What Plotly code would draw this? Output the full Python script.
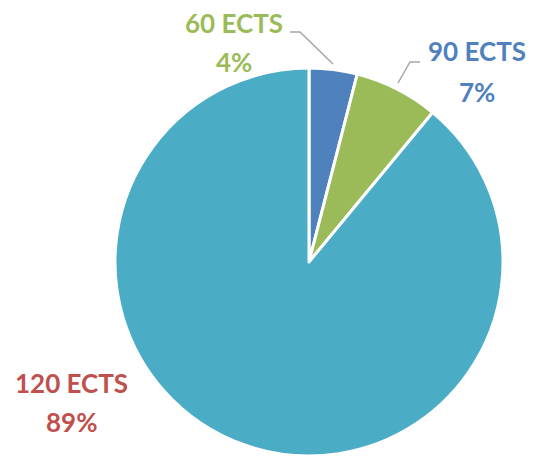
import plotly.graph_objects as go

categories = ["60 ECTS", "90 ECTS", "120 ECTS"]
values = [4, 7, 89]
slice_colors = ["#4F81BD", "#9BBB59", "#4BACC6"]
label_colors = ["#9BBB59", "#4F81BD", "#C0504D"]

# page has an 8px body margin; work in page pixels and shift
OFF = 8
W, H = 535 - OFF, 456 - OFF
cx, cy, r = 309 - OFF, 263 - OFF, 195


def px(x, y):
    return (x - OFF) / W, 1 - (y - OFF) / H


fig = go.Figure(go.Pie(
    labels=categories, values=values, sort=False, direction="clockwise",
    rotation=0, textinfo="none", hoverinfo="label+percent",
    marker=dict(colors=slice_colors, line=dict(color="white", width=3)),
    domain=dict(x=[(cx - r) / W, (cx + r) / W], y=[0, min(1, (H - cy + r) / H)]),
    showlegend=False,
))

total = sum(values)
label_pos = [(234, 23, 62), (477, 51, 92), (71, 383, 422)]
font = "Lato, 'Open Sans', sans-serif"
for cat, v, col, (x, y1, y2) in zip(categories, values, label_colors, label_pos):
    pct = f"{round(100 * v / total)}%"
    for txt, y in ((cat, y1), (pct, y2)):
        ax, ay = px(x, y)
        fig.add_annotation(x=ax, y=ay, xref="paper", yref="paper",
                           text=f"<b>{txt}</b>", showarrow=False,
                           font=dict(family=font, size=26, color=col),
                           xanchor="center", yanchor="middle")

leaders = [[(290, 32), (300, 32), (333, 64)], [(420, 62), (410, 62), (398, 83)]]
for pts in leaders:
    path = "M " + " L ".join("{},{}".format(*px(x, y)) for x, y in pts)
    fig.add_shape(type="path", path=path, xref="paper", yref="paper",
                  line=dict(color="#A6A6A6", width=1.5))

fig.update_layout(width=W, height=H, margin=dict(l=0, r=0, t=0, b=0),
                  paper_bgcolor="white", plot_bgcolor="white")
fig.write_html("out.html")
